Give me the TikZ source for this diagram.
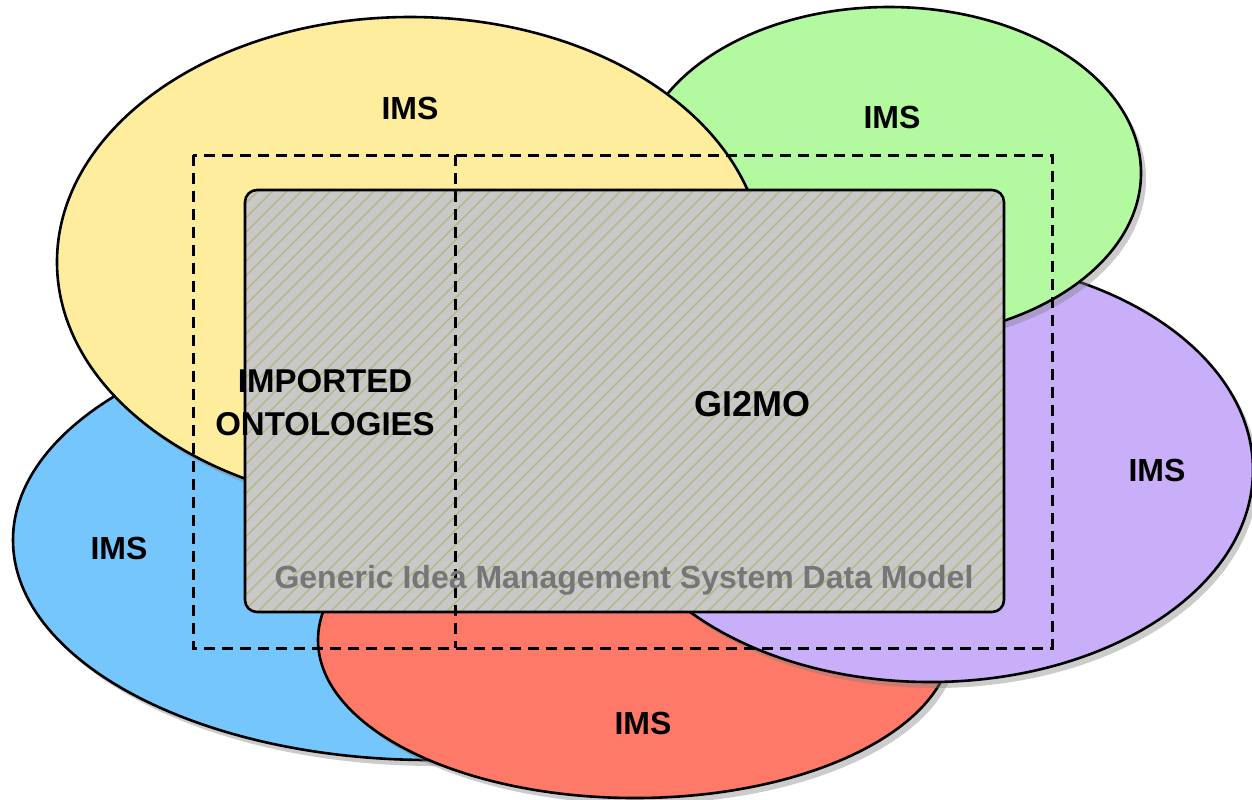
\documentclass[tikz,border=0pt]{standalone}
\usepackage{fontspec}
\setmainfont{Liberation Sans}
\usetikzlibrary{shapes.geometric,shadows}
\definecolor{imsyellow}{RGB}{254,237,156}
\definecolor{imsgreen}{RGB}{178,249,160}
\definecolor{imspurple}{RGB}{201,174,250}
\definecolor{imsblue}{RGB}{118,198,254}
\definecolor{imsred}{RGB}{254,121,103}
\definecolor{modelgray}{RGB}{200,200,200}
\definecolor{hatchcol}{RGB}{182,182,132}
\definecolor{subgray}{RGB}{118,118,118}

\begin{document}
\begin{tikzpicture}[x=0.5pt,y=-0.5pt]
\tikzstyle{ims}=[ellipse,draw,line width=1.3pt,inner sep=0pt,drop shadow={shadow xshift=2.5pt,shadow yshift=-3pt,opacity=0.4}]
\tikzstyle{lbl}=[font=\bfseries\fontsize{16}{19}\selectfont,align=center,inner sep=0pt]
\tikzstyle{border}=[line width=1.5pt,dash pattern=on 5.5pt off 3.5pt]
\useasboundingbox (0,0) rectangle (1252,799);
% the five systems
\node[ims,fill=imsblue,minimum width=417pt,minimum height=220pt] (blue) at (430,540) {};
\node[ims,fill=imsred,minimum width=317pt,minimum height=158pt] (red) at (635,640) {};
\node[ims,fill=imspurple,minimum width=323pt,minimum height=212pt] (purple) at (930,470) {};
\node[ims,fill=imsgreen,minimum width=252pt,minimum height=166pt] (green) at (889,173) {};
\node[ims,fill=imsyellow,minimum width=353pt,minimum height=245pt] (yellow) at (410,262) {};
% data model
\coordinate (gtl) at (245,190);
\coordinate (gbr) at (1004,612);
\fill[modelgray,rounded corners=6pt] (gtl) rectangle (gbr);
\begin{scope}
\clip[rounded corners=6pt] (gtl) rectangle (gbr);
\foreach \k in {0,...,85}
  \draw[hatchcol,line width=0.7pt] ({-200+14.5*\k},620) -- ++(450,-450);
\end{scope}
\draw[line width=1.3pt,rounded corners=6pt] (gtl) rectangle (gbr);
% imported part
\coordinate (dtl) at (193,155);
\coordinate (dbr) at (1052,648);
\coordinate (dsplit) at (455,155);
\coordinate (dsplitb) at (455,648);
\draw[border] (dtl) rectangle (dbr);
\draw[border] (dsplit) -- (dsplitb);
% labels
\node[lbl] (yellowlbl) at (410,108) {IMS};
\node[lbl] (greenlbl) at (892,117) {IMS};
\node[lbl] (purplelbl) at (1157,470) {IMS};
\node[lbl] (bluelbl) at (119,548) {IMS};
\node[lbl] (redlbl) at (643,723) {IMS};
\node[lbl,font=\bfseries\fontsize{16.5}{21.5}\selectfont] (imported) at (325,403) {IMPORTED\\ONTOLOGIES};
\node[lbl,font=\bfseries\fontsize{18}{21}\selectfont] (gimo) at (752,404) {GI2MO};
\node[lbl,text=subgray] (generic) at (624,580) {Generic Idea Management System Data Model};
\end{tikzpicture}
\end{document}
